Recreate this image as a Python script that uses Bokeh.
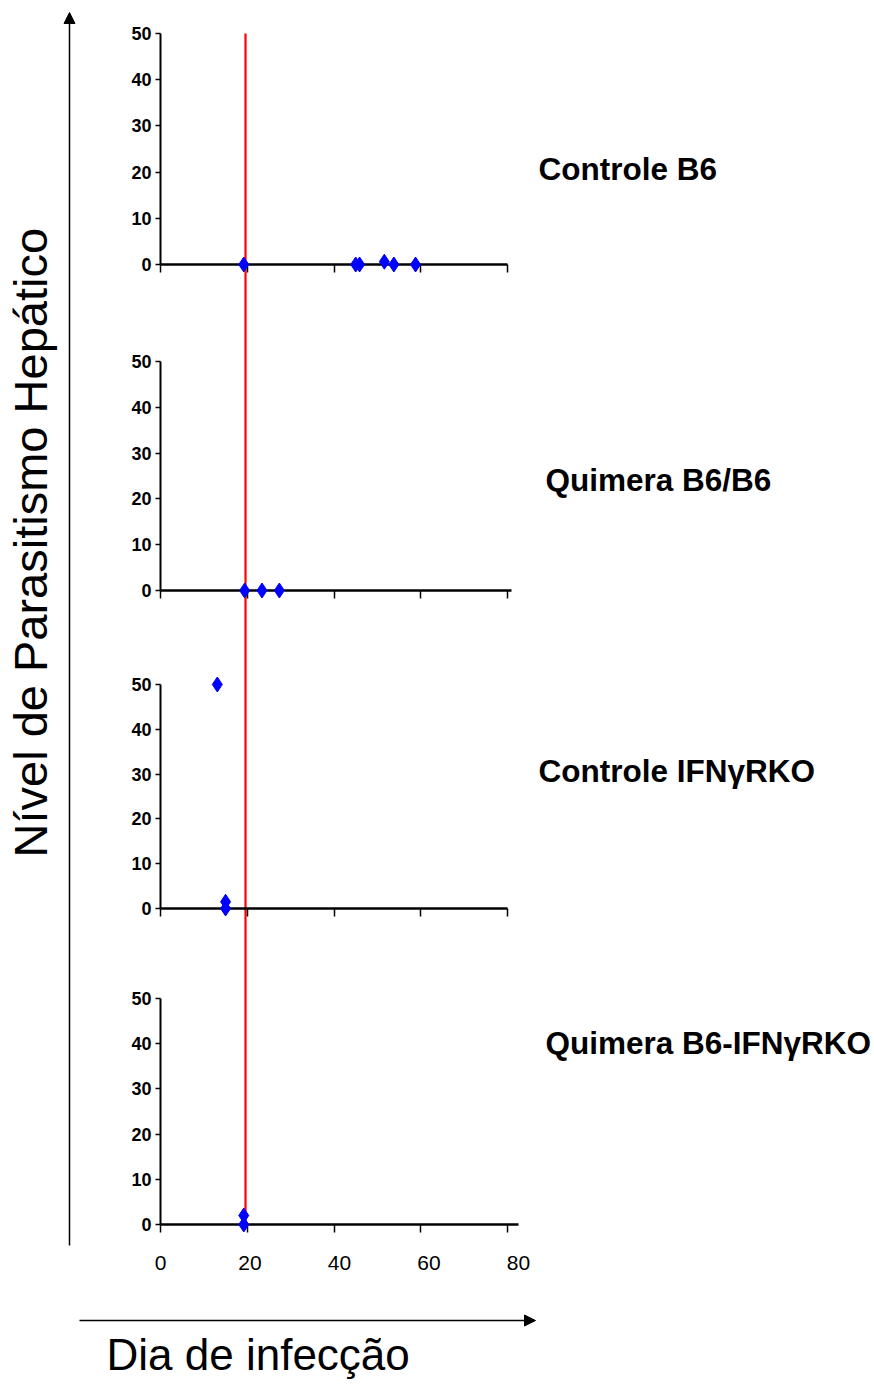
import math
from bokeh.plotting import figure
from bokeh.models import Range1d, LinearAxis, FixedTicker, Label, Arrow, NormalHead
from bokeh.embed import file_html
from bokeh.resources import INLINE

# ---------------- data ----------------
panel_names = ["Controle B6", "Quimera B6/B6", "Controle IFNγRKO", "Quimera B6-IFNγRKO"]
b6_days = [19.2, 45.0, 45.9, 51.6, 53.8, 58.8]
b6_level = [0, 0, 0, 0.6, 0, 0]
qb6_days = [19.4, 23.4, 27.4]
qb6_level = [0, 0, 0]
ko_days = [13.1, 15.0, 15.0]
ko_level = [50, 1.5, 0]
qko_days = [19.2, 19.2]
qko_level = [2, 0]
cutoff_day = 19.6
x_ticks = [0, 20, 40, 60, 80]
y_ticks = [0, 10, 20, 30, 40, 50]
x_title = "Dia de infecção"
y_title = "Nível de  Parasitismo Hepático"

series_days = [b6_days, qb6_days, ko_days, qko_days]
series_level = [b6_level, qb6_level, ko_level, qko_level]

# ---------------- layout (pixels) ----------------
W, H = 874, 1385
X0_PX, X80_PX = 160.0, 507.0
LAB80_PX = 518.0
panel_px = [(33, 264), (361, 590), (684, 908), (998, 1224)]   # (pixel of 50, pixel of 0)
axis_end = [80, 81, 80, 82.5]
label_pos = [(538, 168), (545, 479), (538, 770), (545, 1042)]

ppd = (X80_PX - X0_PX) / 80.0
lppd = (LAB80_PX - X0_PX) / 80.0


def px_to_day(px):
    return (px - X0_PX) / ppd


FONT = "Liberation Sans"

p = figure(width=W, height=H, x_range=Range1d(px_to_day(0), px_to_day(W)),
           y_range=Range1d(H, 0), min_border=0, toolbar_location=None,
           output_backend="svg", x_axis_location=None, y_axis_location=None,
           outline_line_color=None, background_fill_color="white",
           border_fill_color="white")
p.grid.visible = False
p.extra_x_ranges["px"] = Range1d(0, W)
p.extra_x_ranges["lab"] = Range1d(-X0_PX / lppd, (W - X0_PX) / lppd)

for i, (y50, y0) in enumerate(panel_px):
    s = (y0 - y50) / 50.0
    name = f"p{i}"
    p.extra_y_ranges[name] = Range1d(start=(y0 - H) / s, end=y0 / s)

    yax = LinearAxis(y_range_name=name, fixed_location=0, bounds=(0, 50),
                     ticker=FixedTicker(ticks=y_ticks),
                     axis_line_width=2, axis_line_color="black",
                     major_tick_line_width=1.5, major_tick_line_color="black",
                     major_tick_out=5, major_tick_in=0, minor_tick_line_color=None,
                     major_label_standoff=4, major_label_text_font=FONT,
                     major_label_text_font_size="18px",
                     major_label_text_font_style="bold",
                     major_label_text_color="black")
    p.add_layout(yax, "left")

    xax = LinearAxis(y_range_name=name, fixed_location=0, bounds=(0, axis_end[i]),
                     ticker=FixedTicker(ticks=x_ticks),
                     major_label_overrides={t: "" for t in x_ticks},
                     axis_line_width=2.5, axis_line_color="black",
                     major_tick_line_width=1.5, major_tick_line_color="black",
                     major_tick_out=8, major_tick_in=0, minor_tick_line_color=None)
    p.add_layout(xax, "below")

# tick labels of the shared day axis (drawn under the bottom panel)
lab_ax = LinearAxis(x_range_name="lab", y_range_name="p3", fixed_location=0,
                    bounds=(0, 80), ticker=FixedTicker(ticks=x_ticks),
                    axis_line_color=None, major_tick_line_color=None,
                    minor_tick_line_color=None, major_tick_out=8,
                    major_label_standoff=23, major_label_text_font=FONT,
                    major_label_text_font_size="21px",
                    major_label_text_color="black")
p.add_layout(lab_ax, "below")

# red cut-off line spanning all panels
p.segment(x0=[cutoff_day], y0=[panel_px[0][0]], x1=[cutoff_day], y1=[panel_px[3][1]],
          line_color="#FF0000", line_width=2.2)

# data points
for i in range(4):
    r = p.scatter(series_days[i], series_level[i], marker="diamond", size=15,
                  fill_color="#0000FF", line_color="#0000FF", y_range_name=f"p{i}")
    r.level = "overlay"

# group labels
for i, name in enumerate(panel_names):
    lx, ly = label_pos[i]
    p.add_layout(Label(x=lx, y=ly, x_range_name="px", text=name, text_font=FONT,
                       text_font_style="bold", text_font_size="31.5px",
                       text_color="black", text_baseline="alphabetic"))

# axis arrows
p.add_layout(Arrow(x_start=69, y_start=1245, x_end=69, y_end=12, x_range_name="px",
                   line_width=1.5, line_color="black",
                   end=NormalHead(size=11, fill_color="black", line_color="black")))
p.add_layout(Arrow(x_start=79, y_start=1320, x_end=535, y_end=1320, x_range_name="px",
                   line_width=1.5, line_color="black",
                   end=NormalHead(size=11, fill_color="black", line_color="black")))

# axis titles
p.add_layout(Label(x=30, y=857, x_range_name="px", text=y_title, angle=math.pi / 2,
                   text_font=FONT, text_font_size="47px", text_color="black",
                   text_baseline="alphabetic", text_align="left"))
p.add_layout(Label(x=106, y=1354, x_range_name="px", text=x_title,
                   text_font=FONT, text_font_size="44px", text_color="black",
                   text_baseline="alphabetic", text_align="left"))

open("out.html", "w").write(file_html(p, INLINE))
